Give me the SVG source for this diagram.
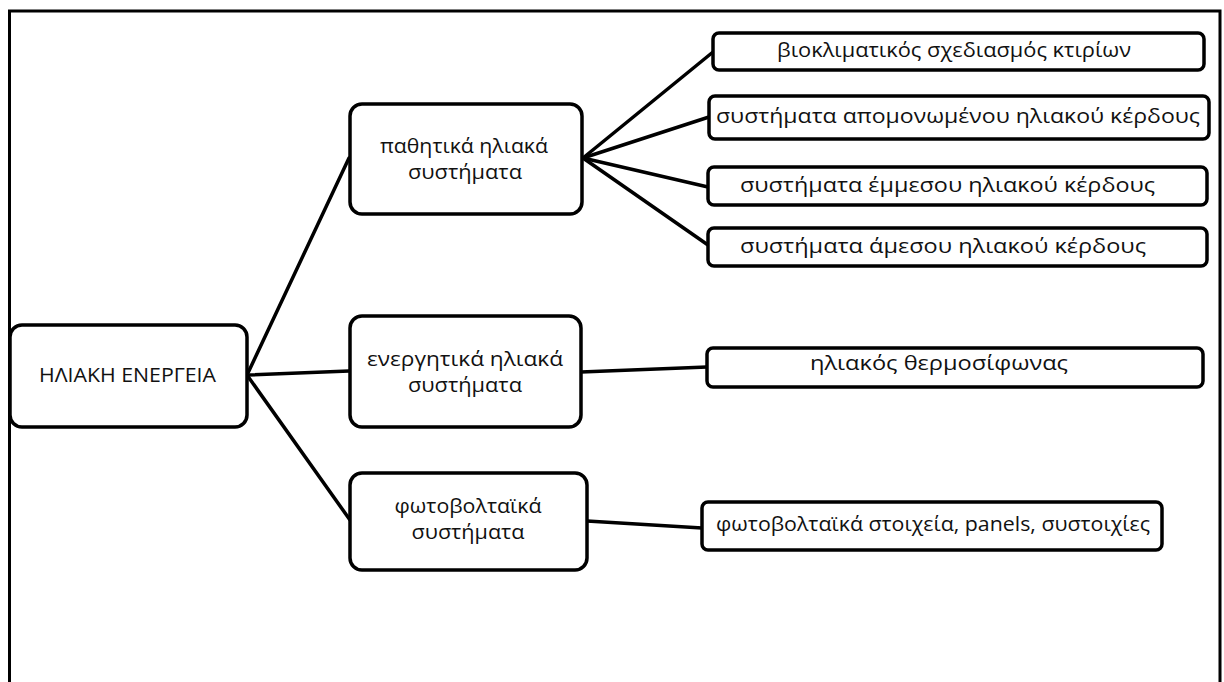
<svg xmlns="http://www.w3.org/2000/svg" width="1224" height="682" viewBox="0 0 1224 682">
<style>
.box{fill:#fff;stroke:#000;stroke-width:3.5}
.lbl{font-family:"Open Sans","Noto Sans","DejaVu Sans",sans-serif;font-size:20px;fill:#111}
.c{text-anchor:middle}
.ln{stroke:#000;stroke-width:3.5;fill:none;stroke-linecap:round}
</style>
<rect x="0" y="0" width="1224" height="682" fill="#fff"/>
<path d="M9.5 690 V11 H1220 V690" fill="none" stroke="#000" stroke-width="3"/>
<g id="connectors">
<line class="ln" x1="247" y1="375" x2="349" y2="158"/>
<line class="ln" x1="247" y1="375" x2="349" y2="371"/>
<line class="ln" x1="247" y1="375" x2="350" y2="520"/>
<line class="ln" x1="583" y1="158" x2="713" y2="52"/>
<line class="ln" x1="583" y1="158" x2="709" y2="117"/>
<line class="ln" x1="583" y1="158" x2="708" y2="187"/>
<line class="ln" x1="583" y1="158" x2="708" y2="245"/>
<line class="ln" x1="581" y1="372" x2="707" y2="367"/>
<line class="ln" x1="587" y1="521" x2="702" y2="528" stroke-width="4.5"/>
</g>
<g id="root">
<rect class="box" x="10" y="325" width="237" height="102" rx="12"/>
<text class="lbl" x="39" y="382" textLength="177" lengthAdjust="spacingAndGlyphs">ΗΛΙΑΚΗ ΕΝΕΡΓΕΙΑ</text>
</g>
<g id="passive">
<rect class="box" x="350" y="104" width="232" height="110" rx="12"/>
<text class="lbl" x="380" y="153" textLength="168" lengthAdjust="spacingAndGlyphs">παθητικά ηλιακά</text>
<text class="lbl" x="408" y="179" textLength="114" lengthAdjust="spacingAndGlyphs">συστήματα</text>
</g>
<g id="active">
<rect class="box" x="350" y="316" width="231" height="111" rx="12"/>
<text class="lbl c" x="465" y="366" textLength="196" lengthAdjust="spacingAndGlyphs">ενεργητικά ηλιακά</text>
<text class="lbl c" x="465" y="392" textLength="114" lengthAdjust="spacingAndGlyphs">συστήματα</text>
</g>
<g id="pv">
<rect class="box" x="350" y="473" width="237" height="97" rx="12"/>
<text class="lbl c" x="468" y="513" textLength="147" lengthAdjust="spacingAndGlyphs">φωτοβολταϊκά</text>
<text class="lbl c" x="468" y="539" textLength="113" lengthAdjust="spacingAndGlyphs">συστήματα</text>
</g>
<g id="b1">
<rect class="box" x="713" y="33" width="491" height="37" rx="6"/>
<text class="lbl" x="777" y="57" textLength="354" lengthAdjust="spacingAndGlyphs">βιοκλιματικός σχεδιασμός κτιρίων</text>
</g>
<g id="b2">
<rect class="box" x="709" y="96" width="500" height="43" rx="6"/>
<text class="lbl" x="716" y="123" textLength="484" lengthAdjust="spacingAndGlyphs">συστήματα απομονωμένου ηλιακού  κέρδους</text>
</g>
<g id="b3">
<rect class="box" x="708" y="167" width="499" height="38" rx="6"/>
<text class="lbl" x="740" y="192" textLength="415" lengthAdjust="spacingAndGlyphs">συστήματα έμμεσου ηλιακού κέρδους</text>
</g>
<g id="b4">
<rect class="box" x="708" y="228" width="499" height="38" rx="6"/>
<text class="lbl" x="740" y="253" textLength="406" lengthAdjust="spacingAndGlyphs">συστήματα άμεσου ηλιακού κέρδους</text>
</g>
<g id="b5">
<rect class="box" x="707" y="348" width="496" height="39" rx="6"/>
<text class="lbl" x="810" y="370" textLength="258" lengthAdjust="spacingAndGlyphs">ηλιακός θερμοσίφωνας</text>
</g>
<g id="b6">
<rect class="box" x="702" y="502" width="460" height="48" rx="6"/>
<text class="lbl" x="716" y="531" textLength="434" lengthAdjust="spacingAndGlyphs">φωτοβολταϊκά στοιχεία, panels, συστοιχίες</text>
</g>
</svg>
